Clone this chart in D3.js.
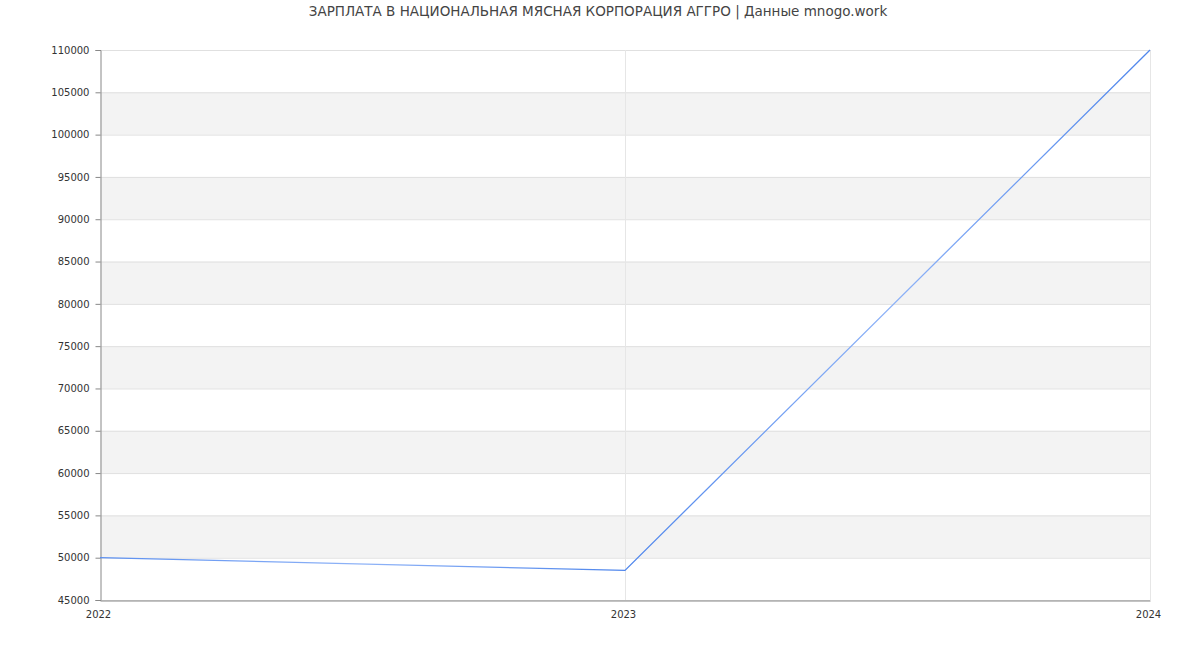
<!DOCTYPE html>
<html><head><meta charset="utf-8">
<script src="https://cdn.jsdelivr.net/npm/d3@7"></script>
<style>body{margin:0;background:#fff;font-family:"DejaVu Sans",sans-serif;}</style>
</head><body>
<svg id="chart" width="1200" height="650"></svg>
<script>
const years = ["2022", "2023", "2024"];
const salaries = [50000, 48500, 110000];
const yTicks = [45000,50000,55000,60000,65000,70000,75000,80000,85000,90000,95000,100000,105000,110000];
const title = "ЗАРПЛАТА В НАЦИОНАЛЬНАЯ МЯСНАЯ КОРПОРАЦИЯ АГГРО | Данные mnogo.work";

const svg = d3.select("#chart");
const m = {l:100, r:1150, t:50, b:600};
const x = d3.scalePoint().domain(years).range([m.l, m.r]);
const y = d3.scaleLinear().domain([45000, 110000]).range([m.b, m.t]);

// bands
for (let i = 0; i < yTicks.length - 1; i++) {
  if (i % 2 === 1) {
    svg.append("rect").attr("x", m.l).attr("width", m.r - m.l)
      .attr("y", y(yTicks[i+1])).attr("height", y(yTicks[i]) - y(yTicks[i+1]))
      .attr("fill", "#f3f3f3");
  }
}
// horizontal grid
svg.append("g").selectAll("line").data(yTicks).join("line")
  .attr("x1", m.l).attr("x2", m.r).attr("y1", d => y(d)+0.5).attr("y2", d => y(d)+0.5)
  .attr("stroke", "#e0e0e0");
// vertical grid
svg.append("g").selectAll("line").data(years.slice(1)).join("line")
  .attr("x1", d => x(d)+0.5).attr("x2", d => x(d)+0.5).attr("y1", m.t).attr("y2", m.b)
  .attr("stroke", "#e6e6e6");

// axes
const yAxis = svg.append("g").attr("transform", `translate(${m.l+0.5},0)`)
  .call(d3.axisLeft(y).tickValues(yTicks).tickSize(5).tickPadding(6).tickFormat(d3.format("d")));
yAxis.select(".domain").attr("stroke", "#888");
yAxis.selectAll(".tick line").attr("stroke", "#888");
yAxis.selectAll("text").attr("fill", "#333").style("font-size", "10px").style("font-family", "DejaVu Sans");

const xAxis = svg.append("g").attr("transform", `translate(0,${m.b+0.5})`)
  .call(d3.axisBottom(x).tickSize(0).tickPadding(10));
xAxis.select(".domain").attr("stroke", "#888");
xAxis.selectAll("text").attr("fill", "#333").style("font-size", "10px").style("font-family", "DejaVu Sans")
  .attr("dx", (d,i) => i === 0 ? -2 : (i === years.length-1 ? -2 : -2));

// line with gradient
const defs = svg.append("defs");
const g = defs.append("linearGradient").attr("id","lg").attr("gradientUnits","userSpaceOnUse")
  .attr("x1", m.l).attr("x2", m.r).attr("y1",0).attr("y2",0);
g.append("stop").attr("offset","0%").attr("stop-color","#5b8ff0");
g.append("stop").attr("offset","25%").attr("stop-color","#8fb3f7");
g.append("stop").attr("offset","50%").attr("stop-color","#4f86ec");
g.append("stop").attr("offset","75%").attr("stop-color","#8fb3f7");
g.append("stop").attr("offset","100%").attr("stop-color","#4f86ec");

const line = d3.line().x((d,i) => x(years[i])).y(d => y(d));
svg.append("path").datum(salaries).attr("d", line)
  .attr("fill","none").attr("stroke","url(#lg)").attr("stroke-width",1.3);

svg.append("text").attr("x", 598).attr("y", 16).attr("text-anchor","middle")
  .attr("fill","#444").style("font-size","13.5px").style("font-family","DejaVu Sans").text(title);
</script>
</body></html>
